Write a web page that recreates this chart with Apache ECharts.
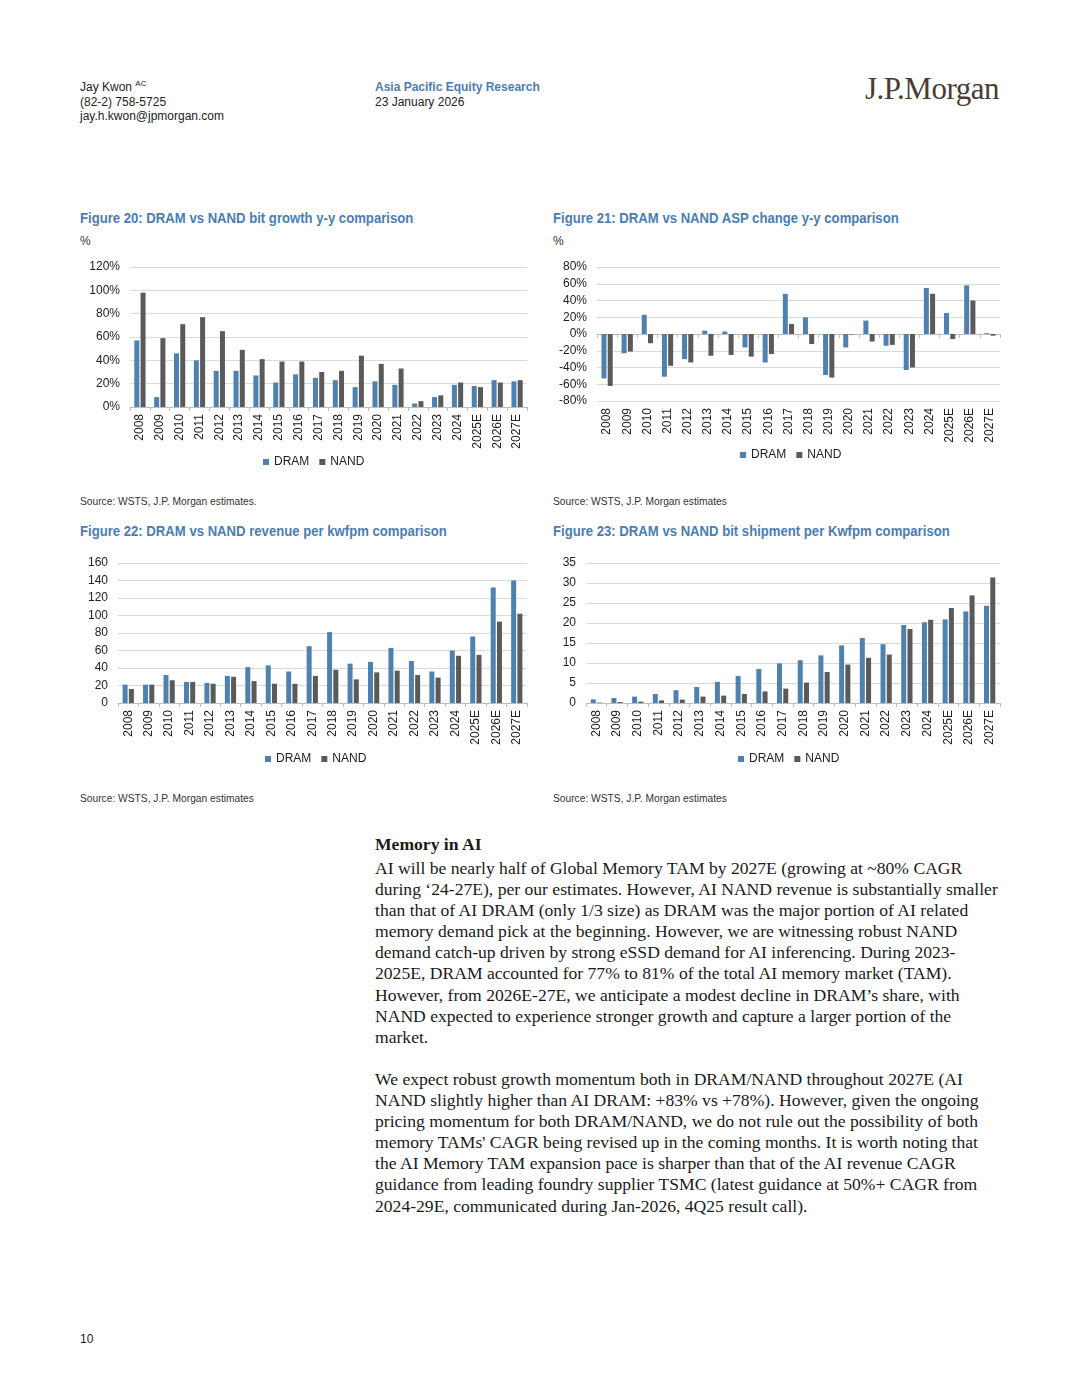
<!DOCTYPE html>
<html>
<head>
<meta charset="utf-8">
<script src="https://cdn.jsdelivr.net/npm/echarts@6/dist/echarts.min.js"></script>
<style>
  html, body { margin:0; padding:0; background:#fff; }
  body { width:1080px; height:1397px; position:relative; overflow:hidden; font-family:"Liberation Sans", Arial, sans-serif; color:#222; }
  .abs { position:absolute; white-space:nowrap; }
  .hdr { font-size:12px; line-height:14.5px; color:#222; }
  .ftitle { font-size:15px; font-weight:bold; color:#4a7db3; transform:scaleX(0.875); transform-origin:0 50%; }
  .pct { font-size:12px; color:#333; }
  .src { font-size:11.5px; color:#333; transform:scaleX(0.89); transform-origin:0 50%; }
  .chart { position:absolute; width:460px; height:220px; }
  .body { font-family:"Liberation Serif", "Times New Roman", serif; font-size:17.6px; line-height:21.1px; color:#1a1a1a; }
  sup { font-size:8px; line-height:0; vertical-align:5px; }
</style>
</head>
<body>
<div class="abs hdr" style="left:80px; top:80px;">Jay Kwon <sup>AC</sup><br>(82-2) 758-5725<br>jay.h.kwon@jpmorgan.com</div>
<div class="abs hdr" style="left:375px; top:80px;"><span style="color:#4a7db3;font-weight:bold;">Asia Pacific Equity Research</span><br>23 January 2026</div>
<div class="abs" style="left:865px; top:71px; font-family:'Liberation Serif','Times New Roman',serif; font-size:31px; color:#4a3b33; letter-spacing:-0.5px;">J.P.Morgan</div>

<div class="abs ftitle" style="left:80px; top:209px;">Figure 20: DRAM vs NAND bit growth y-y comparison</div>
<div class="abs pct" style="left:80px; top:234px;">%</div>
<div class="abs ftitle" style="left:553px; top:209px;">Figure 21: DRAM vs NAND ASP change y-y comparison</div>
<div class="abs pct" style="left:553px; top:234px;">%</div>
<div class="abs src" style="left:80px; top:495px;">Source: WSTS, J.P. Morgan estimates.</div>
<div class="abs src" style="left:553px; top:495px;">Source: WSTS, J.P. Morgan estimates</div>

<div class="abs ftitle" style="left:80px; top:522px;">Figure 22: DRAM vs NAND revenue per kwfpm comparison</div>
<div class="abs ftitle" style="left:553px; top:522px;">Figure 23: DRAM vs NAND bit shipment per Kwfpm comparison</div>
<div class="abs src" style="left:80px; top:792px;">Source: WSTS, J.P. Morgan estimates</div>
<div class="abs src" style="left:553px; top:792px;">Source: WSTS, J.P. Morgan estimates</div>

<div id="c1" class="chart" style="left:75px; top:255px;"></div>
<div id="c2" class="chart" style="left:550px; top:255px;"></div>
<div id="c3" class="chart" style="left:75px; top:555px;"></div>
<div id="c4" class="chart" style="left:550px; top:555px;"></div>

<div class="abs body" style="left:375px; top:834px;"><b>Memory in AI</b></div>
<div class="abs body" style="left:375px; top:858px;">
AI will be nearly half of Global Memory TAM by 2027E (growing at ~80% CAGR<br>
during ‘24-27E), per our estimates. However, AI NAND revenue is substantially smaller<br>
than that of AI DRAM (only 1/3 size) as DRAM was the major portion of AI related<br>
memory demand pick at the beginning. However, we are witnessing robust NAND<br>
demand catch-up driven by strong eSSD demand for AI inferencing. During 2023-<br>
2025E, DRAM accounted for 77% to 81% of the total AI memory market (TAM).<br>
However, from 2026E-27E, we anticipate a modest decline in DRAM’s share, with<br>
NAND expected to experience stronger growth and capture a larger portion of the<br>
market.
</div>
<div class="abs body" style="left:375px; top:1069px;">
We expect robust growth momentum both in DRAM/NAND throughout 2027E (AI<br>
NAND slightly higher than AI DRAM: +83% vs +78%). However, given the ongoing<br>
pricing momentum for both DRAM/NAND, we do not rule out the possibility of both<br>
memory TAMs' CAGR being revised up in the coming months. It is worth noting that<br>
the AI Memory TAM expansion pace is sharper than that of the AI revenue CAGR<br>
guidance from leading foundry supplier TSMC (latest guidance at 50%+ CAGR from<br>
2024-29E, communicated during Jan-2026, 4Q25 result call).
</div>
<div class="abs hdr" style="left:80px; top:1332px;">10</div>

<script>
// ---- Data ----
const years = ['2008','2009','2010','2011','2012','2013','2014','2015','2016','2017','2018','2019','2020','2021','2022','2023','2024','2025E','2026E','2027E'];
const seriesNames = ['DRAM','NAND'];

// Figure 20: bit growth y-y (%)
const bitGrowthDRAM = [57, 8.5, 46, 40, 31, 31, 27, 21, 28, 25, 23, 17, 22, 19, 3, 8.5, 19, 18, 23, 22];
const bitGrowthNAND = [98, 59, 71, 77, 65, 49, 41, 39, 39, 30, 31, 44, 37, 33, 5, 10, 21, 17, 21, 23];

// Figure 21: ASP change y-y (%)
const aspDRAM = [-53, -23, 23, -51, -30, 4, 3, -16, -34, 48, 20, -49, -16, 16, -14, -43, 55, 25, 58, 1];
const aspNAND = [-62, -21, -11, -38, -34, -26, -25, -27, -24, 12, -12, -52, -0.5, -9, -13, -40, 48, -6, 40, -2];

// Figure 22: revenue per kwfpm
const revDRAM = [21, 21, 32, 24, 23, 31, 41, 43, 36, 65, 81, 45, 47, 63, 48, 36, 60, 76, 132, 140];
const revNAND = [16, 21, 26, 24, 22, 30, 25, 22, 22, 31, 38, 27, 35, 37, 32, 29, 54, 55, 93, 102];

// Figure 23: bit shipment per Kwfpm
const shipDRAM = [0.9, 1.25, 1.6, 2.25, 3.2, 4.0, 5.3, 6.75, 8.5, 9.9, 10.7, 11.9, 14.4, 16.25, 14.7, 19.5, 20.2, 20.9, 22.9, 24.3];
const shipNAND = [0.1, 0.25, 0.35, 0.65, 0.85, 1.6, 1.85, 2.25, 2.9, 3.6, 5.1, 7.75, 9.6, 11.3, 12.1, 18.5, 20.8, 23.75, 26.9, 31.4];

// ---- Style ----
const BLUE = '#4f81b0';
const GREY = '#5a5a5a';
const FONT = '"Liberation Sans", Arial, sans-serif';

function makeChart(id, cfg) {
  const chart = echarts.init(document.getElementById(id), null, {renderer: 'canvas'});
  const catAxisLabel = {rotate: 90, fontSize: 12, color: '#222', fontFamily: FONT, margin: 7, interval: 0};
  let xAxis;
  if (cfg.zeroAxis) {
    xAxis = [
      {type: 'category', data: years, position: 'bottom', axisLine: {show: false, onZero: false}, axisTick: {show: false}, axisLabel: catAxisLabel},
      {type: 'category', data: years, position: 'bottom', axisLine: {show: true, onZero: true, lineStyle: {color: '#bdbdbd'}},
        axisTick: {show: true, length: 3, lineStyle: {color: '#bdbdbd'}}, axisLabel: {show: false}}
    ];
  } else {
    xAxis = [{type: 'category', data: years, axisLine: {lineStyle: {color: '#bdbdbd'}},
      axisTick: {show: true, length: 4, lineStyle: {color: '#bdbdbd'}}, axisLabel: catAxisLabel}];
  }
  chart.setOption({
    animation: false,
    textStyle: {fontFamily: FONT},
    grid: cfg.grid,
    legend: {data: seriesNames, left: cfg.legendLeft, top: cfg.legendTop, icon: 'rect', itemWidth: 6, itemHeight: 6, itemGap: 10,
      textStyle: {fontSize: 12, color: '#222', fontFamily: FONT}},
    xAxis: xAxis,
    yAxis: {type: 'value', min: cfg.min, max: cfg.max, interval: cfg.interval,
      axisLabel: {fontSize: 12, color: '#222', fontFamily: FONT, margin: 10, formatter: cfg.fmt},
      axisLine: {show: false}, axisTick: {show: false},
      splitLine: {lineStyle: {color: '#d9d9d9', width: 1}}},
    series: [
      {name: 'DRAM', type: 'bar', data: cfg.a, xAxisIndex: 0, itemStyle: {color: BLUE}, barWidth: 5, barGap: '25%'},
      {name: 'NAND', type: 'bar', data: cfg.b, xAxisIndex: 0, itemStyle: {color: GREY}, barWidth: 5, barGap: '25%'}
    ]
  });
}

makeChart('c1', {grid: {left: 55, top: 12, width: 397, height: 140}, min: 0, max: 120, interval: 20,
  fmt: '{value}%', a: bitGrowthDRAM, b: bitGrowthNAND, legendLeft: 183, legendTop: 196});
makeChart('c2', {grid: {left: 47, top: 12, width: 403, height: 134}, min: -80, max: 80, interval: 20,
  fmt: '{value}%', a: aspDRAM, b: aspNAND, legendLeft: 185, legendTop: 189});
makeChart('c3', {grid: {left: 43, top: 8, width: 409, height: 140}, min: 0, max: 160, interval: 20,
  fmt: '{value}', a: revDRAM, b: revNAND, legendLeft: 185, legendTop: 193});
makeChart('c4', {grid: {left: 36, top: 8, width: 414, height: 140}, min: 0, max: 35, interval: 5,
  fmt: '{value}', a: shipDRAM, b: shipNAND, legendLeft: 183, legendTop: 193});
</script>
</body>
</html>
